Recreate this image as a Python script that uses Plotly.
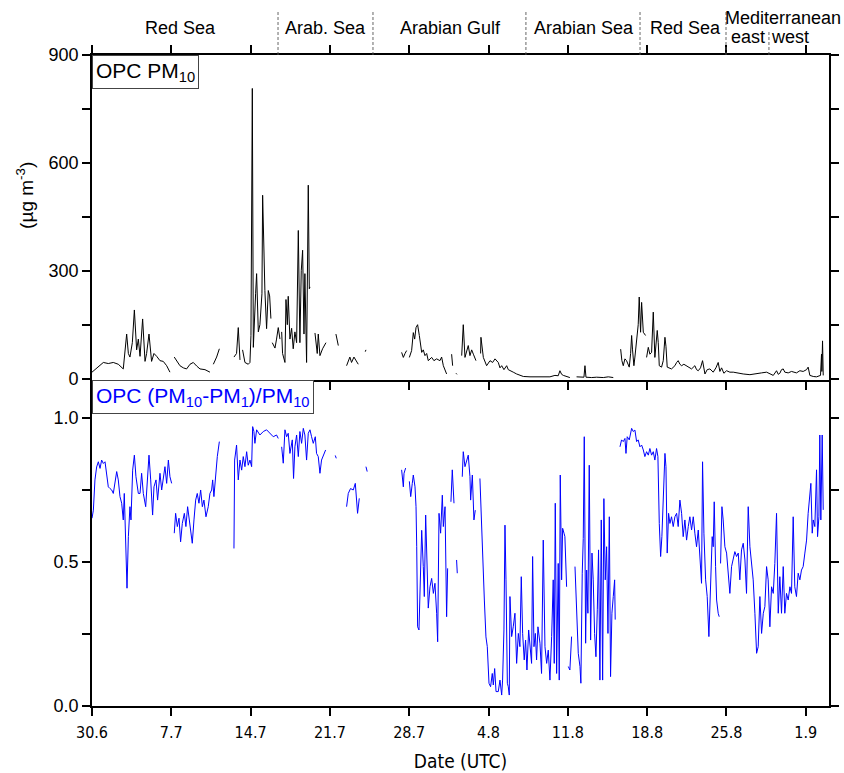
import datetime as dt
import plotly.graph_objects as go

BASE = dt.datetime(2017, 6, 30)

# ---------------- data: days since 30 June 2017 00 UTC ----------------
pm10_days = [
    0.00, 0.71, 1.00, 1.44, 1.88, 2.32, 2.76, 3.06, 3.21, 3.35, 3.56, 3.74, 3.94, 4.09, 4.24, 4.47,
    4.68, 4.82, 5.03, 5.26, 5.47, 5.71, 6.00, 6.29, 6.59, 6.88, None,
    7.26, 7.53, 7.76, 8.06, 8.35, 8.65, 8.94, 9.24, 9.53, 9.97, 10.41, None,
    10.71, 11.00, 11.24, None,
    12.53, 12.76, 12.91, 13.06, None,
    13.29, 13.50, 13.79, 13.94, 14.03, 14.09, 14.15, 14.24, 14.35, 14.44, 14.53, 14.62, 14.68, 14.82,
    14.91, 15.00, 15.06, 15.18, 15.26, 15.41, 15.56, 15.68, 15.79, None,
    15.91, 16.15, 16.29, 16.44, 16.59, None,
    16.74, 16.82, 17.03, 17.12, 17.24, 17.32, 17.47, 17.62, 17.76, 17.91, 18.06, 18.21, 18.35, 18.47,
    18.59, 18.71, 18.79, 18.94, 19.09, 19.18, 19.24, None,
    19.68, 19.88, 19.97, 20.12, 20.35, 20.65, None,
    21.53, 21.74, None,
    22.47, 22.76, 22.91, 23.12, 23.50, None,
    24.12, 24.18, None,
    27.33, 27.48, 27.63, 27.77, None,
    28.01, 28.21, 28.36, 28.48, 28.60, 28.74, 28.89, 29.10, 29.24, 29.39, 29.54, 29.68, 29.98, 30.18,
    30.42, 30.71, 30.86, 31.01, 31.30, None,
    31.74, 31.83, None,
    32.13, 32.21, None,
    32.63, 32.77, 32.92, 33.07, 33.21, 33.36, 33.51, 33.66, 33.89, None,
    34.30, 34.33, 34.54, 34.83, 35.13, 35.36, 35.57, 35.86, 36.01, 36.16, 36.36, 36.60, 36.74, 36.89,
    37.18, 37.48, 38.07, 38.66, 39.24, 39.83, 40.42, 40.86, 41.15, 41.30, 41.45, 41.60, 42.18, None,
    42.77, 43.21, 43.42, 43.51, 43.60, 44.10, 44.54, 45.13, 45.57, 46.01, None,
    46.66, 46.77, 46.89, 47.04, 47.18, 47.42, 47.54, 47.63, 47.71, 47.83, 47.92, 48.01, 48.13, 48.21,
    48.30, 48.36, 48.42, 48.51, 48.60, 48.66, 48.86, None,
    48.95, 49.10, 49.24, 49.39, 49.54, 49.68, 49.89, 49.98, 50.07, 50.27, 50.42, 50.57, 50.66, 50.77,
    51.15, 51.45, 51.60, 51.74, 51.89, 52.04, 52.24, 52.48, 52.71, 52.92, 53.21, 53.36, 53.51, 53.71,
    53.89, 54.10, 54.30, 54.54, 54.83, 55.07, 55.27, 55.42, 55.57, 55.77, 56.01, 56.30, 56.60, 57.04,
    57.48, 58.07, 58.66, 59.10, 59.54, 59.83, 60.13, 60.42, 60.57, 60.71, 60.86, 61.01, 61.15, 61.45,
    61.74, 62.18, 62.48, 62.77, 63.07, 63.21, 63.36, 63.66, 63.95, 64.30, 64.39, 64.42, 64.48, 64.54,
]
pm10_vals = [
    18, 36, 45, 42, 45, 40, 27, 124, 70, 60, 100, 191, 80, 110, 62, 166,
    48, 70, 124, 48, 70, 62, 50, 48, 36, 18, None,
    60, 45, 36, 30, 27, 40, 45, 35, 27, 25, 18, None,
    40, 60, 83, None,
    60, 70, 142, 52, None,
    80, 45, 40, 45, 120, 435, 807, 87, 150, 236, 292, 200, 130, 150,
    200, 236, 510, 280, 245, 139, 245, 230, 167, None,
    100, 85, 110, 142, 110, None,
    130, 70, 45, 220, 150, 229, 110, 140, 83, 130, 100, 412, 100, 300,
    357, 124, 292, 45, 538, 250, 255, None,
    127, 70, 124, 64, 83, 100, None,
    124, 92, None,
    36, 60, 45, 60, 40, None,
    75, 80, None,
    73, 59, 70, 78, None,
    59, 78, 128, 110, 142, 150, 120, 73, 80, 64, 70, 50, 59, 50,
    55, 50, 60, 36, 13, None,
    68, 36, None,
    15, 12, None,
    64, 150, 59, 80, 92, 64, 80, 68, 50, None,
    70, 115, 59, 36, 50, 45, 55, 45, 30, 36, 25, 36, 25, 22,
    18, 13, 6, 5, 5, 6, 5, 9, 8, 22, 12, 9, 3, None,
    5, 3, 4, 36, 4, 3, 4, 3, 5, 3, None,
    82, 50, 36, 55, 50, 32, 70, 120, 80, 36, 60, 87, 110, 150,
    227, 160, 129, 212, 170, 129, 120, None,
    59, 87, 68, 73, 185, 59, 134, 100, 36, 32, 50, 115, 90, 32,
    27, 36, 45, 50, 40, 36, 40, 36, 30, 27, 36, 25, 22, 30,
    50, 13, 25, 27, 18, 30, 45, 20, 30, 15, 22, 18, 18, 15,
    13, 11, 15, 16, 18, 14, 9, 22, 12, 15, 25, 27, 18, 16,
    20, 16, 22, 20, 25, 32, 9, 6, 5, 9, 68, 20, 105, 9,
]

ratio_days = [
    0.00, 0.12, 0.26, 0.41, 0.56, 0.71, 0.85, 1.00, 1.15, 1.29, 1.44, 1.59, 1.74, 1.88, 2.03, 2.18,
    2.32, 2.47, 2.62, 2.76, 2.85, 3.00, 3.09, 3.21, 3.35, 3.44, 3.59, 3.74, 3.88, 4.09, 4.24, 4.38,
    4.53, 4.74, 4.91, 5.03, 5.18, 5.35, 5.47, 5.65, 5.79, 6.00, 6.15, 6.29, 6.44, 6.59, 6.74, 6.88,
    7.03, None,
    7.26, 7.38, 7.53, 7.68, 7.82, 7.97, 8.15, 8.29, 8.44, 8.65, 8.85, 9.00, 9.15, 9.29, 9.44, 9.59,
    9.74, 9.88, 10.06, 10.26, 10.41, 10.56, 10.65, 10.76, 10.91, 11.06, 11.24, None,
    12.53, 12.59, 12.76, 12.91, 13.06, 13.21, 13.35, 13.50, 13.65, 13.79, 13.94, 14.09, 14.18, 14.29,
    14.38, 14.53, 14.82, 15.12, 15.41, 15.71, 16.00, 16.29, 16.44, None,
    16.74, 16.88, 17.03, 17.18, 17.32, 17.47, 17.68, 17.79, 17.91, 18.06, 18.21, 18.35, 18.50, 18.65,
    18.79, 18.94, 19.09, 19.24, 19.38, 19.53, 19.71, 19.82, 19.97, 20.12, 20.26, 20.41, 20.62, None,
    21.47, 21.56, None,
    22.47, 22.62, 22.82, 23.06, 23.24, 23.44, 23.59, None,
    24.18, 24.29, None,
    27.33, 27.48, 27.54, 27.68, None,
    28.01, 28.13, 28.27, 28.36, 28.51, 28.60, 28.66, 28.74, 28.86, 28.95, 29.10, 29.24, 29.33, 29.45,
    29.54, 29.68, 29.83, 29.98, 30.13, 30.27, 30.42, 30.51, 30.63, 30.77, 30.92, 31.01, 31.16, 31.30,
    31.39, None,
    31.68, 31.80, 31.95, None,
    32.18, 32.24, None,
    32.68, 32.77, 32.92, 33.07, 33.21, 33.36, 33.42, 33.57, 33.71, 33.83, None,
    34.24, 34.39, 34.54, 34.63, 34.77, 34.89, 35.04, 35.18, 35.33, 35.42, 35.54, 35.66, 35.86, 36.01,
    36.16, 36.24, 36.36, 36.45, 36.54, 36.66, 36.74, 36.83, 36.89, 37.04, 37.18, 37.33, 37.48, 37.63,
    37.77, 37.89, 38.01, 38.15, 38.27, 38.39, 38.54, 38.66, 38.80, 38.89, 39.01, 39.13, 39.24, 39.36,
    39.54, 39.68, 39.83, 39.98, 40.13, 40.27, 40.42, 40.57, 40.71, 40.80, 40.89, 41.01, 41.15, 41.24,
    41.33, 41.45, 41.54, 41.66, 41.74, 41.89, None,
    42.04, 42.18, 42.33, None,
    42.63, 42.77, 42.92, 43.07, 43.15, 43.27, 43.36, 43.45, 43.57, 43.66, 43.77, 43.89, 44.01, 44.13,
    44.24, 44.36, 44.48, 44.60, 44.71, 44.83, 44.95, 45.07, 45.18, 45.30, 45.42, 45.54, 45.66, 45.77,
    45.89, 46.01, 46.13, 46.18, None,
    46.60, 46.74, 46.89, 47.04, 47.13, 47.24, 47.42, 47.63, 47.77, 47.92, 48.07, 48.21, 48.36, 48.51,
    48.66, 48.80, 48.95, 49.10, 49.24, 49.39, 49.54, 49.68, 49.83, 49.95, 50.07, 50.19, 50.30, 50.42,
    50.57, 50.66, 50.77, 50.89, 51.01, 51.15, 51.30, 51.45, 51.60, 51.74, 51.89, 52.04, 52.18, 52.33,
    52.48, 52.63, 52.77, 52.92, 53.07, 53.21, 53.36, 53.51, 53.65, 53.80, 53.89, 54.01, 54.16, 54.30,
    54.45, 54.60, 54.74, 54.83, 54.92, 55.04, 55.13, 55.27, 55.36, None,
    55.48, 55.60, 55.71, 55.86, 56.01, 56.16, 56.30, 56.45, 56.60, 56.74, 56.89, 57.04, 57.18, 57.33,
    57.48, 57.63, 57.77, 57.92, 58.07, 58.21, 58.36, 58.51, 58.66, 58.80, 58.95, 59.10, 59.25, 59.39,
    59.54, 59.68, 59.83, 59.98, 60.13, 60.27, 60.42, 60.57, 60.71, 60.86, 61.01, 61.15, 61.30, 61.45,
    61.60, 61.74, 61.89, 62.03, 62.18, 62.33, 62.48, 62.62, 62.77, 62.92, 63.07, 63.21, 63.36, 63.45,
    63.57, 63.66, 63.80, 63.95, 64.04, 64.16, 64.24, 64.33, 64.45, 64.54,
]
ratio_vals = [
    0.652, 0.680, 0.785, 0.830, 0.848, 0.825, 0.854, 0.842, 0.848, 0.796, 0.761, 0.755, 0.750, 0.738, 0.785, 0.814,
    0.785, 0.727, 0.704, 0.646, 0.738, 0.576, 0.409, 0.588, 0.692, 0.646, 0.819, 0.871, 0.796, 0.738, 0.738, 0.808,
    0.738, 0.692, 0.808, 0.871, 0.785, 0.663, 0.761, 0.785, 0.715, 0.808, 0.750, 0.796, 0.831, 0.773, 0.854, 0.796,
    0.773, None,
    0.600, 0.669, 0.623, 0.652, 0.570, 0.634, 0.669, 0.623, 0.692, 0.623, 0.565, 0.646, 0.715, 0.738, 0.704, 0.750,
    0.692, 0.715, 0.657, 0.692, 0.738, 0.750, 0.785, 0.727, 0.808, 0.866, 0.918, None,
    0.547, 0.854, 0.906, 0.785, 0.854, 0.819, 0.866, 0.831, 0.883, 0.836, 0.854, 0.831, 0.970, 0.953,
    0.912, 0.959, 0.941, 0.953, 0.959, 0.947, 0.935, 0.941, 0.929, None,
    0.900, 0.843, 0.959, 0.935, 0.947, 0.877, 0.924, 0.790, 0.900, 0.941, 0.866, 0.953, 0.912, 0.964,
    0.941, 0.854, 0.947, 0.959, 0.935, 0.912, 0.935, 0.877, 0.866, 0.808, 0.854, 0.871, 0.889, None,
    0.870, 0.860, None,
    0.692, 0.738, 0.755, 0.750, 0.773, 0.669, 0.721, None,
    0.831, 0.814, None,
    0.820, 0.761, 0.808, 0.826, None,
    0.780, 0.727, 0.773, 0.802, 0.761, 0.692, 0.553, 0.275, 0.264, 0.390, 0.610, 0.484, 0.380, 0.663,
    0.553, 0.340, 0.414, 0.443, 0.391, 0.426, 0.322, 0.223, 0.669, 0.600, 0.732, 0.623, 0.692, 0.310,
    0.478, None,
    0.709, 0.820, 0.704, None,
    0.507, 0.461, None,
    0.796, 0.883, 0.831, 0.854, 0.871, 0.796, 0.715, 0.802, 0.646, 0.680, None,
    0.790, 0.611, 0.414, 0.368, 0.240, 0.206, 0.079, 0.067, 0.113, 0.073, 0.130, 0.050, 0.050, 0.090,
    0.038, 0.090, 0.264, 0.628, 0.438, 0.079, 0.067, 0.038, 0.380, 0.241, 0.275, 0.322, 0.148, 0.252,
    0.206, 0.449, 0.252, 0.160, 0.229, 0.125, 0.264, 0.194, 0.148, 0.519, 0.206, 0.252, 0.160, 0.275,
    0.218, 0.113, 0.576, 0.206, 0.148, 0.194, 0.090, 0.241, 0.438, 0.148, 0.704, 0.113, 0.495, 0.090,
    0.802, 0.438, 0.617, 0.600, 0.588, 0.414, None,
    0.137, 0.125, 0.241, None,
    0.484, 0.322, 0.183, 0.137, 0.079, 0.461, 0.582, 0.935, 0.218, 0.472, 0.322, 0.836, 0.229, 0.531,
    0.438, 0.252, 0.171, 0.334, 0.542, 0.090, 0.646, 0.090, 0.720, 0.438, 0.553, 0.252, 0.657, 0.102,
    0.322, 0.380, 0.438, 0.300, None,
    0.900, 0.924, 0.918, 0.929, 0.877, 0.935, 0.924, 0.964, 0.953, 0.958, 0.918, 0.924, 0.900, 0.906,
    0.889, 0.866, 0.883, 0.871, 0.894, 0.871, 0.883, 0.854, 0.894, 0.866, 0.634, 0.519, 0.588, 0.750,
    0.877, 0.831, 0.531, 0.669, 0.634, 0.657, 0.623, 0.657, 0.669, 0.623, 0.715, 0.669, 0.588, 0.646,
    0.576, 0.623, 0.657, 0.611, 0.657, 0.600, 0.553, 0.611, 0.519, 0.426, 0.848, 0.600, 0.438, 0.380,
    0.241, 0.438, 0.588, 0.553, 0.709, 0.484, 0.368, 0.322, 0.310, None,
    0.495, 0.692, 0.646, 0.553, 0.531, 0.461, 0.391, 0.484, 0.507, 0.536, 0.519, 0.531, 0.438, 0.542,
    0.565, 0.507, 0.391, 0.692, 0.553, 0.507, 0.438, 0.322, 0.183, 0.206, 0.380, 0.252, 0.322, 0.345,
    0.484, 0.438, 0.275, 0.414, 0.391, 0.495, 0.669, 0.322, 0.449, 0.322, 0.484, 0.322, 0.391, 0.368,
    0.414, 0.391, 0.657, 0.414, 0.380, 0.461, 0.438, 0.472, 0.484, 0.531, 0.576, 0.669, 0.738, 0.773,
    0.600, 0.646, 0.623, 0.820, 0.588, 0.657, 0.941, 0.646, 0.941, 0.681,
]

# region boundaries (days) and labels
region_bounds = [16.42, 24.80, 38.30, 48.37, 55.96]
subregion_bounds = [59.75]
region_labels = ["Red Sea", "Arab. Sea", "Arabian Gulf", "Arabian Sea", "Red Sea"]
region_label_days = [7.77, 20.65, 31.60, 43.42, 52.34]
med_label = "Mediterranean"
med_label_day = 61.0
sub_labels = ["east", "west"]
sub_label_days = [57.9, 61.6]

x_range_days = [0.0, 65.05]
tick_step_days = 7


def to_time(days):
    return [None if d is None else BASE + dt.timedelta(days=d) for d in days]


fig = go.Figure()
fig.add_trace(go.Scatter(x=to_time(pm10_days), y=pm10_vals, mode="lines",
                         line=dict(color="black", width=1), xaxis="x2", yaxis="y2",
                         connectgaps=False, showlegend=False))
fig.add_trace(go.Scatter(x=to_time(ratio_days), y=ratio_vals, mode="lines",
                         line=dict(color="#0000ff", width=1), xaxis="x", yaxis="y",
                         connectgaps=False, showlegend=False))

FONT = "Liberation Sans, Arial, sans-serif"
NARROW = "DejaVu Sans Condensed, Liberation Sans Narrow, Arial Narrow, sans-serif"
xr = [BASE + dt.timedelta(days=d) for d in x_range_days]
tick_kw = dict(tick0=BASE, dtick=tick_step_days * 86400000, ticks="outside", ticklen=8,
               tickwidth=1.5, tickcolor="black", showline=True, linecolor="black", linewidth=1.6,
               showgrid=False, zeroline=False, range=xr, automargin=False)
ytick_kw = dict(ticks="outside", ticklen=8, tickwidth=1.5, tickcolor="black", showline=True,
                linecolor="black", linewidth=1.6, mirror="ticks", showgrid=False, zeroline=False,
                tickfont=dict(size=18), automargin=False)

fig.update_layout(
    width=844, height=773,
    margin=dict(l=92, r=15, t=55, b=67),
    paper_bgcolor="white", plot_bgcolor="white",
    font=dict(family=FONT, size=17, color="black"),
    xaxis=dict(**tick_kw, anchor="y", mirror=False, tickformat="%-d.%-m",
               tickfont=dict(family=NARROW, size=16), ticklabelstandoff=3,
               title=dict(text="Date (UTC)", font=dict(family=NARROW, size=19), standoff=14)),
    xaxis2=dict(**tick_kw, anchor="y2", matches="x", mirror="ticks", showticklabels=False),
    yaxis=dict(domain=[0, 0.5008], range=[0, 1.132], tick0=0, dtick=0.5, tickformat=".1f",
               minor=dict(dtick=0.25, ticks="outside", ticklen=8, tickwidth=1.5, tickcolor="black"),
               **ytick_kw),
    yaxis2=dict(domain=[0.5012, 1], range=[-3, 900], tick0=0, dtick=300,
                minor=dict(dtick=150, ticks="outside", ticklen=8, tickwidth=1.5, tickcolor="black"),
                **ytick_kw),
)

# y title for top panel
fig.add_annotation(text="(µg m<sup>-3</sup>)", xref="paper", yref="paper", x=-0.091, y=0.785,
                   textangle=-90, showarrow=False, font=dict(size=19), xanchor="center", yanchor="middle")

# panel label boxes
fig.add_annotation(text="OPC PM<sub>10</sub>", xref="paper", yref="paper", x=0, y=1,
                   xanchor="left", yanchor="top", showarrow=False, align="left",
                   font=dict(size=21, color="black"), bgcolor="white",
                   bordercolor="#444", borderwidth=1, borderpad=3)
fig.add_annotation(text="OPC (PM<sub>10</sub>-PM<sub>1</sub>)/PM<sub>10</sub>", xref="paper", yref="paper",
                   x=0, y=0.5005, xanchor="left", yanchor="top", showarrow=False, align="left",
                   font=dict(size=21, color="#0000ff"), bgcolor="white",
                   bordercolor="#444", borderwidth=1, borderpad=3)

# region separators and labels
sep_line = dict(color="#555", width=0.9, dash="3px,2px")
for d in region_bounds:
    fig.add_shape(type="line", xref="x2", yref="paper", x0=BASE + dt.timedelta(days=d),
                  x1=BASE + dt.timedelta(days=d), y0=1.0, y1=1.069, line=sep_line)
for d in subregion_bounds:
    fig.add_shape(type="line", xref="x2", yref="paper", x0=BASE + dt.timedelta(days=d),
                  x1=BASE + dt.timedelta(days=d), y0=1.0, y1=1.038, line=sep_line)
for lab, d in zip(region_labels, region_label_days):
    fig.add_annotation(text=lab, xref="x2", yref="paper", x=BASE + dt.timedelta(days=d), y=1.042,
                       showarrow=False, xanchor="center", yanchor="middle", font=dict(size=18))
fig.add_annotation(text=med_label, xref="x2", yref="paper", x=BASE + dt.timedelta(days=med_label_day),
                   y=1.057, showarrow=False, xanchor="center", yanchor="middle", font=dict(size=18))
for lab, d in zip(sub_labels, sub_label_days):
    fig.add_annotation(text=lab, xref="x2", yref="paper", x=BASE + dt.timedelta(days=d), y=1.027,
                       showarrow=False, xanchor="center", yanchor="middle", font=dict(size=18))

fig.write_html("out.html")
